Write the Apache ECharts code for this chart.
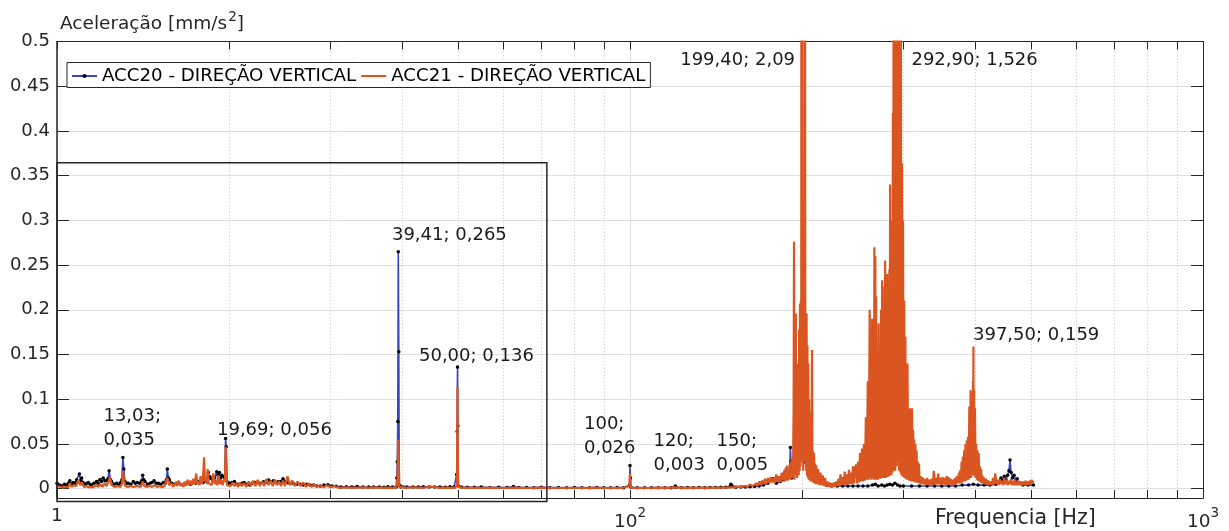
<!DOCTYPE html>
<html>
<head>
<meta charset="utf-8">
<script src="https://cdn.jsdelivr.net/npm/echarts@6/dist/echarts.min.js"></script>
<style>
  html, body { margin: 0; padding: 0; background: #fff; }
  #chart { width: 1229px; height: 531px; }
</style>
</head>
<body>
<div id="chart"></div>
<script>
// ---------- Spectrum data: [frequency in Hz, acceleration in mm/s^2] ----------

// ACC20, 10–31 Hz
const acc20Low = [
  [10.0,0.006],[10.1,0.004],[10.19,0.003],[10.3,0.005],[10.4,0.004],[10.47,0.006],[10.53,0.009],[10.6,0.005],
  [10.68,0.007],[10.75,0.006],[10.82,0.010],[10.88,0.008],[10.94,0.0165],[10.99,0.009],[11.04,0.012],[11.1,0.007],
  [11.19,0.005],[11.27,0.006],[11.34,0.007],[11.42,0.005],[11.49,0.004],[11.6,0.006],[11.72,0.008],[11.8,0.006],
  [11.88,0.010],[11.96,0.008],[12.04,0.012],[12.12,0.009],[12.2,0.009],[12.27,0.011],[12.33,0.020],[12.4,0.010],
  [12.45,0.008],[12.58,0.005],[12.71,0.006],[12.82,0.005],[12.92,0.007],[12.98,0.010],[13.03,0.035],[13.08,0.022],
  [13.14,0.008],[13.23,0.006],[13.32,0.006],[13.45,0.005],[13.59,0.008],[13.7,0.006],[13.81,0.007],[13.95,0.006],
  [14.05,0.009],[14.11,0.015],[14.17,0.010],[14.24,0.008],[14.38,0.005],[14.53,0.006],[14.65,0.007],[14.77,0.009],
  [14.9,0.006],[15.03,0.006],[15.18,0.005],[15.33,0.007],[15.45,0.006],[15.52,0.010],[15.58,0.022],[15.64,0.012],
  [15.71,0.010],[15.85,0.006],[16.0,0.005],[16.14,0.006],[16.28,0.006],[16.44,0.005],[16.6,0.004],[16.77,0.005],
  [16.94,0.006],[17.1,0.005],[17.28,0.007],[17.46,0.006],[17.64,0.008],[17.81,0.007],[17.99,0.007],[18.18,0.009],
  [18.31,0.012],[18.37,0.018],[18.43,0.012],[18.49,0.0134],[18.6,0.011],[18.7,0.010],[18.85,0.012],[19.0,0.019],
  [19.1,0.015],[19.21,0.018],[19.3,0.012],[19.4,0.015],[19.53,0.0134],[19.62,0.012],[19.69,0.056],[19.74,0.047],
  [19.8,0.008],[19.9,0.006],[20.02,0.006],[20.2,0.007],[20.4,0.008],[20.6,0.005],[20.8,0.005],[21.0,0.006],
  [21.2,0.007],[21.45,0.005],[21.7,0.004],[21.9,0.006],[22.1,0.007],[22.3,0.0067],[22.6,0.006],[22.93,0.0078],
  [23.15,0.007],[23.4,0.0097],[23.6,0.008],[23.86,0.009],[24.1,0.007],[24.3,0.0078],[24.55,0.008],[24.8,0.011],
  [25.05,0.008],[25.3,0.0067],[25.55,0.006],[25.84,0.006],[26.2,0.005],[26.56,0.005],[26.9,0.004],[27.3,0.005],
  [27.65,0.004],[28.03,0.004],[28.4,0.003],[28.8,0.003],[29.25,0.004],[29.7,0.0045],[30.2,0.003],[30.7,0.0028]
];

// ACC20, 31–192 Hz
const acc20Mid = [
  [31.3,0.002],[31.98,0.0022],[32.7,0.002],[33.4,0.0025],[34.2,0.002],[35.0,0.0018],[35.7,0.0018],[36.5,0.002],
  [37.2,0.0017],[37.8,0.0022],[38.5,0.0018],[39.09,0.002],[39.17,0.012],[39.25,0.030],[39.33,0.075],[39.41,0.265],
  [39.49,0.153],[39.57,0.004],[39.8,0.002],[40.8,0.002],[41.8,0.0018],[42.7,0.002],[43.6,0.0022],[44.6,0.0018],
  [45.6,0.002],[46.6,0.002],[47.6,0.0017],[48.5,0.0022],[49.3,0.002],[49.84,0.016],[49.92,0.064],[50.0,0.136],
  [50.08,0.070],[50.16,0.003],[50.8,0.0018],[52,0.0016],[53.5,0.0015],[55,0.0018],[57,0.0014],[59,0.0015],
  [61,0.0013],[62.6,0.0025],[64,0.0013],[66,0.0014],[68,0.0012],[70,0.0015],[72.5,0.0012],[75,0.0013],
  [77.5,0.0011],[80,0.0014],[82.5,0.0012],[85,0.0011],[87.5,0.0013],[90,0.0012],[92.5,0.0011],[95,0.0013],
  [97.5,0.0012],[99.8,0.004],[100.0,0.026],[100.2,0.012],[100.4,0.0015],[103,0.0012],[106,0.0011],[109,0.0012],
  [112,0.0011],[115,0.0012],[118,0.0012],[119.8,0.0018],[120,0.003],[120.2,0.0016],[123,0.0012],[126,0.0013],
  [129,0.0012],[132,0.0013],[135,0.0012],[138,0.0014],[141,0.0013],[144,0.0015],[147,0.0016],[149.5,0.0025],
  [150,0.005],[150.5,0.003],[153,0.0016],[156,0.0018],[159,0.002],[162,0.0022],[165,0.0025],[168,0.003],
  [171,0.004],[174,0.006],[177.8,0.011],[180,0.006],[183,0.008],[185.5,0.010],[188,0.012],[190.0,0.020],
  [190.5,0.046],[191.0,0.030],[191.5,0.012]
];

// ACC20, 192–506 Hz
const acc20High = [
  [193,0.020],[194,0.084],[195,0.030],[197,0.040],[199.4,0.050],[202,0.030],[205,0.015],[210,0.008],
  [215,0.006],[220,0.004],[225,0.003],[230,0.003],[235,0.003],[240,0.003],[245,0.003],[250,0.003],
  [255,0.003],[260,0.003],[265,0.004],[268,0.005],[271,0.003],[275,0.004],[278,0.003],[281,0.004],
  [284,0.005],[287,0.004],[290,0.006],[293,0.004],[296,0.003],[300,0.003],[310,0.003],[320,0.003],
  [330,0.003],[340,0.003],[350,0.003],[360,0.003],[370,0.003],[380,0.004],[390,0.004],[397.5,0.005],
  [405,0.004],[415,0.004],[425,0.004],[435,0.005],[440,0.008],[444,0.012],[447,0.009],[450,0.014],
  [453,0.010],[456,0.015],[458.5,0.020],[460.5,0.032],[462.5,0.018],[465,0.012],[468,0.015],[471,0.009],
  [474,0.011],[478,0.006],[485,0.004],[495,0.004],[506,0.004]
];

// ACC21, 10–31 Hz
const acc21Low = [
  [10.0,0.003],[10.08,0.0015],[10.16,0.002],[10.25,0.001],[10.35,0.002],[10.45,0.0015],[10.53,0.006],[10.6,0.002],
  [10.7,0.004],[10.8,0.003],[10.9,0.010],[10.98,0.004],[11.05,0.007],[11.15,0.002],[11.25,0.003],[11.35,0.0015],
  [11.45,0.002],[11.55,0.0015],[11.7,0.004],[11.8,0.002],[11.9,0.005],[12.0,0.002],[12.1,0.006],[12.2,0.003],
  [12.3,0.008],[12.37,0.013],[12.45,0.004],[12.6,0.002],[12.75,0.003],[12.9,0.002],[12.98,0.005],[13.03,0.020],
  [13.08,0.012],[13.15,0.003],[13.3,0.002],[13.45,0.003],[13.6,0.002],[13.8,0.003],[14.0,0.002],[14.11,0.008],
  [14.2,0.003],[14.35,0.002],[14.5,0.0035],[14.65,0.002],[14.8,0.004],[14.95,0.002],[15.1,0.003],[15.25,0.0015],
  [15.4,0.003],[15.58,0.012],[15.7,0.004],[15.85,0.006],[15.95,0.002],[16.1,0.007],[16.2,0.003],[16.3,0.009],
  [16.4,0.003],[16.5,0.006],[16.6,0.002],[16.7,0.008],[16.8,0.003],[16.9,0.010],[17.0,0.004],[17.1,0.009],
  [17.2,0.004],[17.3,0.011],[17.4,0.005],[17.5,0.017],[17.58,0.005],[17.64,0.008],[17.72,0.004],[17.81,0.014],
  [17.9,0.005],[17.98,0.012],[18.06,0.035],[18.12,0.008],[18.19,0.013],[18.26,0.005],[18.32,0.022],[18.4,0.006],
  [18.5,0.008],[18.62,0.004],[18.75,0.017],[18.85,0.005],[18.95,0.010],[19.05,0.004],[19.13,0.015],[19.25,0.005],
  [19.35,0.010],[19.45,0.004],[19.55,0.009],[19.64,0.012],[19.69,0.047],[19.74,0.030],[19.8,0.004],[19.95,0.006],
  [20.1,0.003],[20.25,0.007],[20.4,0.003],[20.55,0.006],[20.7,0.002],[20.85,0.007],[21.0,0.003],[21.2,0.006],
  [21.4,0.002],[21.6,0.008],[21.8,0.003],[22.0,0.009],[22.2,0.003],[22.4,0.010],[22.6,0.003],[22.8,0.008],
  [23.0,0.003],[23.2,0.011],[23.4,0.004],[23.6,0.009],[23.8,0.003],[24.0,0.010],[24.2,0.004],[24.4,0.008],
  [24.6,0.003],[24.8,0.009],[25.0,0.003],[25.25,0.014],[25.5,0.004],[25.75,0.009],[26.0,0.003],[26.3,0.008],
  [26.6,0.003],[26.9,0.007],[27.2,0.002],[27.5,0.006],[27.8,0.002],[28.1,0.005],[28.4,0.002],[28.8,0.004],
  [29.2,0.0015],[29.6,0.004],[30.0,0.0015],[30.5,0.003]
];

// ACC21, 31–152 Hz
const acc21Mid = [
  [31.0,0.001],[32,0.0015],[33,0.001],[34,0.0015],[35,0.001],[36,0.0014],[37,0.001],[38,0.0013],
  [39.0,0.001],[39.25,0.008],[39.33,0.020],[39.41,0.055],[39.49,0.030],[39.57,0.002],[40.5,0.001],[42,0.0014],
  [43.5,0.001],[45,0.0025],[46.5,0.001],[48,0.0013],[49.5,0.001],[49.84,0.004],[49.92,0.016],[50.0,0.114],
  [50.08,0.030],[50.16,0.002],[51,0.001],[53,0.0012],[55,0.0008],[57,0.0012],[60,0.0008],[63,0.0012],
  [66,0.0008],[70,0.0011],[74,0.0008],[78,0.001],[82,0.0008],[86,0.0011],[90,0.0008],[94,0.001],
  [97,0.0008],[99.8,0.003],[100.0,0.017],[100.2,0.004],[100.5,0.0008],[104,0.001],[108,0.0008],[112,0.0011],
  [116,0.0009],[119.6,0.0015],[120,0.003],[120.4,0.0012],[124,0.0009],[128,0.0011],[132,0.0009],[136,0.0012],
  [140,0.001],[144,0.0013],[148,0.0011],[150,0.0015]
];

// ACC21, 152–192 Hz
const acc21Rise = [
  [152,0.0015],[154,0.0025],[156,0.0018],[158,0.003],[160,0.002],[162,0.0045],[164,0.003],[166,0.006],
  [167,0.003],[168,0.008],[169,0.004],[170,0.009],[171,0.005],[172,0.011],[173,0.005],[174,0.012],
  [175,0.006],[176,0.013],[177,0.007],[178,0.012],[179,0.006],[180,0.016],[181,0.008],[182,0.014],
  [183,0.007],[184,0.018],[185,0.009],[186,0.021],[186.5,0.008],[187,0.024],[187.5,0.010],[188,0.026],
  [188.5,0.009],[189,0.022],[189.5,0.010],[190,0.027],[190.5,0.011],[191,0.031],[191.5,0.012],[192,0.033]
];

// ACC21, 192–212 Hz
const acc21Band1 = [
  [192.5,0.012],[193.0,0.090],[193.3,0.276],[193.6,0.010],[194.0,0.140],[194.3,0.015],[194.7,0.196],[195.0,0.020],
  [195.4,0.106],[195.7,0.012],[196.0,0.140],[196.4,0.020],[196.7,0.106],[197.0,0.015],[197.3,0.178],[197.7,0.020],
  [198.0,0.207],[198.4,0.025],[198.7,0.210],[199.0,0.030],[199.4,2.09],[199.8,0.030],[200.2,0.210],[200.6,0.020],
  [201.0,0.205],[201.4,0.030],[201.9,0.950],[202.3,0.030],[202.6,0.190],[203.0,0.020],[203.3,0.196],[203.7,0.015],
  [204.0,0.160],[204.4,0.012],[204.7,0.140],[205.1,0.010],[205.4,0.100],[205.8,0.010],[206.1,0.085],[206.5,0.008],
  [206.8,0.045],[207.2,0.009],[207.8,0.155],[208.2,0.008],[208.6,0.042],[209.0,0.007],[209.5,0.040],[210.0,0.006],
  [210.5,0.028],[211.0,0.005],[211.5,0.026]
];

// ACC21, 212–248 Hz
const acc21Gap = [
  [212,0.005],[213,0.022],[214,0.004],[215,0.018],[216,0.004],[217,0.015],[218,0.003],[219,0.012],
  [220,0.003],[221,0.008],[222,0.002],[223,0.007],[224,0.002],[225,0.006],[226,0.002],[227,0.007],
  [228,0.002],[229,0.008],[230,0.003],[231,0.011],[232,0.003],[233,0.016],[234,0.004],[235,0.013],
  [236,0.004],[237,0.019],[238,0.004],[239,0.016],[240,0.005],[241,0.021],[242,0.005],[243,0.018],
  [244,0.005],[245,0.025],[246,0.006],[247,0.022]
];

// ACC21, 248–321 Hz
const acc21Band2 = [
  [248,0.027],[249,0.006],[250,0.030],[251,0.007],[252,0.040],[253,0.008],[254,0.045],[255,0.008],
  [256,0.050],[257,0.009],[258,0.080],[259,0.010],[260,0.120],[261,0.010],[262,0.200],[262.5,0.012],
  [263.2,0.130],[263.8,0.010],[264.5,0.190],[265.2,0.012],[266,0.160],[266.5,0.010],[267,0.270],[267.5,0.012],
  [268,0.260],[268.4,0.010],[268.8,0.215],[269.3,0.012],[270,0.138],[270.7,0.010],[271.5,0.185],[272.2,0.012],
  [273,0.160],[273.6,0.011],[274.2,0.200],[274.8,0.012],[275.4,0.233],[276,0.013],[276.7,0.210],[277.3,0.012],
  [278,0.226],[278.4,0.014],[278.8,0.255],[279.4,0.012],[280,0.220],[280.5,0.015],[281,0.240],[281.7,0.013],
  [282.4,0.226],[283,0.014],[283.6,0.245],[284,0.015],[284.4,0.340],[285,0.016],[285.5,0.230],[286,0.015],
  [286.6,0.300],[287.1,0.018],[287.6,0.420],[288.0,0.020],[288.4,0.620],[288.8,0.020],[289.2,0.850],[289.6,0.025],
  [290.0,0.700],[290.4,0.020],[290.8,1.050],[291.2,0.025],[291.6,0.950],[292.0,0.030],[292.4,1.200],[292.65,0.040],
  [292.9,1.526],[293.2,0.030],[293.6,1.100],[294.0,0.025],[294.4,0.900],[294.8,0.020],[295.2,0.800],[295.6,0.020],
  [296.0,0.620],[296.5,0.018],[297.0,0.520],[297.6,0.015],[298.3,0.364],[299.0,0.014],[299.6,0.300],[300.2,0.013],
  [301,0.210],[301.7,0.012],[302.4,0.170],[303,0.011],[303.6,0.140],[304.3,0.010],[305,0.140],[305.7,0.010],
  [306.4,0.085],[307.1,0.009],[307.8,0.090],[308.5,0.009],[309.2,0.075],[309.9,0.008],[310.6,0.090],[311.3,0.008],
  [312,0.066],[312.7,0.008],[313.4,0.055],[314.1,0.007],[314.8,0.050],[315.5,0.007],[316.3,0.043],[317,0.007],
  [317.8,0.030],[318.6,0.006],[319.4,0.028],[320.2,0.006]
];

// ACC21, 321–377 Hz
const acc21Between = [
  [321,0.014],[322.5,0.005],[324,0.013],[325.5,0.005],[327,0.011],[328.5,0.004],[330,0.012],[331.5,0.004],
  [333,0.010],[334.5,0.004],[336,0.011],[337.5,0.004],[339,0.020],[340.5,0.005],[342,0.012],[343.5,0.005],
  [345,0.017],[346.5,0.005],[348,0.012],[349.5,0.004],[351,0.013],[352.5,0.005],[354,0.012],[355.5,0.004],
  [357,0.014],[358.5,0.005],[360,0.013],[361.5,0.005],[363,0.011],[364.5,0.004],[366,0.010],[367.5,0.004],
  [369,0.012],[370.5,0.005],[372,0.014],[373.5,0.006],[375,0.018],[376.5,0.006]
];

// ACC21, 377–414 Hz
const acc21Band3 = [
  [377,0.021],[378,0.006],[379,0.030],[380,0.007],[381,0.036],[382,0.008],[383,0.043],[384,0.008],
  [385,0.050],[386,0.009],[387,0.054],[388,0.010],[389,0.058],[390,0.010],[391,0.092],[392,0.012],
  [393,0.110],[394,0.012],[395,0.090],[396,0.015],[396.8,0.120],[397.2,0.020],[397.5,0.159],[397.9,0.020],
  [398.5,0.110],[399,0.014],[400,0.090],[401,0.012],[402,0.050],[403,0.010],[404,0.043],[405,0.009],
  [406,0.040],[407,0.008],[408,0.025],[409,0.007],[410,0.022],[411,0.006],[412,0.015],[413,0.006],[414,0.013]
];

// ACC21, 414–506 Hz
const acc21Tail = [
  [416,0.005],[418,0.011],[420,0.005],[422,0.009],[424,0.004],[426,0.008],[428,0.004],[430,0.012],
  [432,0.005],[434,0.017],[436,0.005],[438,0.010],[440,0.004],[442,0.011],[444,0.005],[446,0.009],
  [448,0.004],[450,0.012],[452,0.005],[454,0.010],[456,0.004],[458,0.009],[460,0.005],[462,0.011],
  [464,0.004],[466,0.009],[468,0.004],[470,0.010],[472,0.004],[474,0.008],[476,0.004],[478,0.009],
  [480,0.004],[482,0.008],[484,0.004],[486,0.008],[488,0.004],[490,0.009],[492,0.004],[494,0.008],
  [496,0.004],[498,0.009],[500,0.005],[502,0.010],[504,0.006],[506,0.009]
];

const acc20 = [...acc20Low, ...acc20Mid, ...acc20High];
const acc21 = [...acc21Low, ...acc21Mid, ...acc21Rise, ...acc21Band1, ...acc21Gap,
               ...acc21Band2, ...acc21Between, ...acc21Band3, ...acc21Tail];

const seriesNames = ['ACC20 - DIREÇÃO VERTICAL', 'ACC21 - DIREÇÃO VERTICAL'];

// Peaks annotated with "frequency; amplitude" (value read from the series itself)
const peakNotes = [
  { src: 'acc20', f: 13.03, fd: 2, ad: 3, twoLines: true },
  { src: 'acc20', f: 19.69, fd: 2, ad: 3, twoLines: false },
  { src: 'acc20', f: 39.41, fd: 2, ad: 3, twoLines: false },
  { src: 'acc20', f: 50.0,  fd: 2, ad: 3, twoLines: false },
  { src: 'acc20', f: 100.0, fd: 0, ad: 3, twoLines: true },
  { src: 'acc21', f: 120,   fd: 0, ad: 3, twoLines: true },
  { src: 'acc20', f: 150,   fd: 0, ad: 3, twoLines: true },
  { src: 'acc21', f: 199.4, fd: 2, ad: 2, twoLines: false },
  { src: 'acc21', f: 292.9, fd: 2, ad: 3, twoLines: false },
  { src: 'acc21', f: 397.5, fd: 2, ad: 3, twoLines: false }
];

// Where each note's text sits, in axis units: [freq, accel, text alignment]
const noteSpots = [
  [12.05, 0.0676, 'left'],
  [19.02, 0.0651, 'left'],
  [38.42, 0.2838, 'left'],
  [42.83, 0.1484, 'left'],
  [83.12, 0.0588, 'left'],
  [109.9, 0.0397, 'left'],
  [141.6, 0.0397, 'left'],
  [194.1, 0.4790, 'right'],
  [309.9, 0.4790, 'left'],
  [396.8, 0.1714, 'left']
];

// Minor log-decade positions for the dotted grid and minor ticks
const minorFreqs = [20, 30, 40, 50, 60, 70, 80, 90, 200, 300, 400, 500, 600, 700, 800, 900];

// Outline of the zoomed region (axis units)
const zoomBox = { f0: 10, f1: 71.6, a0: -0.0143, a1: 0.3643 };

// ---------- helpers ----------
const FONT = 'DejaVu Sans';
const INK = '#262626';
const BLUE = '#3546c8';
const ORANGE = '#da5520';
const sources = { acc20, acc21 };
function valueAt(arr, f) {
  const p = arr.find(d => Math.abs(d[0] - f) < 1e-9);
  return p ? p[1] : NaN;
}
function ptBr(v, d) { return v.toFixed(d).replace('.', ','); }
const noteTexts = peakNotes.map(n => {
  const v = valueAt(sources[n.src], n.f);
  return ptBr(n.f, n.fd) + ';' + (n.twoLines ? '\n' : ' ') + ptBr(v, n.ad);
});

const Y_MIN = -0.0104, Y_MAX = 0.5;

const chart = echarts.init(document.getElementById('chart'), null, { renderer: 'canvas' });

const option = {
  animation: false,
  backgroundColor: '#ffffff',
  textStyle: { fontFamily: FONT },
  grid: { left: 57, right: 26, top: 41.5, bottom: 33, containLabel: false, outerBoundsMode: 'none' },
  legend: {
    left: 67, top: 62.5,
    orient: 'horizontal',
    data: [
      { name: seriesNames[0] },
      { name: seriesNames[1], icon: 'path://M0,0H25V2H0Z' }
    ],
    itemWidth: 25, itemHeight: 5, itemGap: 5, symbolKeepAspect: true,
    padding: [4.5, 5, 2.5, 4],
    borderColor: INK, borderWidth: 1, backgroundColor: '#ffffff',
    textStyle: { fontFamily: FONT, fontSize: 18.2, color: '#000' }
  },
  xAxis: [
    {
      type: 'log', logBase: 10, min: 10, max: 1000, position: 'bottom',
      name: 'Frequencia [Hz]', nameLocation: 'end', nameGap: -268,
      nameTextStyle: { fontFamily: FONT, fontSize: 20.5, color: INK, align: 'left', verticalAlign: 'top', padding: [10.5, 0, 0, 0] },
      axisLine: { show: true, onZero: false, lineStyle: { color: INK, width: 1 } },
      axisTick: { show: true, inside: true, length: 8, lineStyle: { color: INK, width: 1 } },
      axisLabel: {
        margin: 8.5, color: INK, fontSize: 18.5, fontFamily: FONT,
        formatter: v => {
          const e = Math.round(Math.log10(v));
          return e === 1 ? '1' : '{b|10}{s|' + e + '}';
        },
        rich: {
          b: { fontSize: 18.5, fontFamily: FONT, color: INK, verticalAlign: 'bottom' },
          s: { fontSize: 13.5, fontFamily: FONT, color: INK, verticalAlign: 'bottom', padding: [0, 0, 10.75, 0] }
        }
      },
      splitLine: { show: true, lineStyle: { color: '#e0e0e0', width: 1 } },
      minorTick: { show: false }, minorSplitLine: { show: false }
    },
    {
      type: 'log', logBase: 10, min: 10, max: 1000, position: 'top',
      axisLine: { show: true, onZero: false, lineStyle: { color: INK, width: 1 } },
      axisTick: { show: true, inside: true, length: 8, lineStyle: { color: INK, width: 1 } },
      axisLabel: { show: false },
      splitLine: { show: false }
    }
  ],
  yAxis: [
    {
      type: 'value', min: Y_MIN, max: Y_MAX, splitNumber: 10, position: 'left',
      name: '{a|Aceleração [mm/s}{s|2}{a|]}', nameLocation: 'end', nameGap: 8.3,
      nameTextStyle: {
        align: 'left', verticalAlign: 'bottom', padding: [0, 0, 0, 3],
        rich: {
          a: { fontSize: 18.5, fontFamily: FONT, color: INK, verticalAlign: 'bottom' },
          s: { fontSize: 13.5, fontFamily: FONT, color: INK, verticalAlign: 'bottom', padding: [0, 0, 8.5, 1] }
        }
      },
      axisLine: { show: true, onZero: false, lineStyle: { color: INK, width: 1.5 } },
      axisTick: { show: true, inside: true, length: 12, lineStyle: { color: INK, width: 1 } },
      axisLabel: { showMinLabel: false, margin: 7, color: INK, fontSize: 18, fontFamily: FONT },
      splitLine: { show: true, lineStyle: { color: '#e0e0e0', width: 1 } }
    },
    {
      type: 'value', min: Y_MIN, max: Y_MAX, splitNumber: 10, position: 'right',
      axisLine: { show: true, onZero: false, lineStyle: { color: INK, width: 1 } },
      axisTick: { show: true, inside: true, length: 12, lineStyle: { color: INK, width: 1 } },
      axisLabel: { show: false },
      splitLine: { show: false }
    }
  ],
  series: [
    // dotted minor grid plus minor ticks on the bottom and top axes
    {
      type: 'custom', name: 'minorGrid', silent: true, z: 1,
      xAxisIndex: 0, yAxisIndex: 0,
      data: minorFreqs.map(f => [f, 0]),
      encode: { x: 0, y: 1 },
      renderItem: (params, api) => {
        const cs = params.coordSys;
        const x = Math.round(api.coord([api.value(0), 0])[0]) + 0.5;
        const yTop = cs.y, yBot = cs.y + cs.height;
        return {
          type: 'group',
          children: [
            { type: 'line', shape: { x1: x, y1: yTop, x2: x, y2: yBot },
              style: { stroke: '#cdcdcd', lineWidth: 1, lineDash: [1.2, 2.2] } },
            { type: 'line', shape: { x1: x, y1: yBot, x2: x, y2: yBot - 8 },
              style: { stroke: INK, lineWidth: 1 } },
            { type: 'line', shape: { x1: x, y1: yTop, x2: x, y2: yTop + 8 },
              style: { stroke: INK, lineWidth: 1 } }
          ]
        };
      }
    },
    {
      name: seriesNames[0], type: 'line', data: acc20,
      xAxisIndex: 0, yAxisIndex: 0, z: 2,
      symbol: 'circle', symbolSize: 3.5, showSymbol: true, showAllSymbol: true,
      itemStyle: { color: '#000000' },
      lineStyle: { color: BLUE, width: 1.6 },
      emphasis: { disabled: true }, clip: true
    },
    {
      name: seriesNames[1], type: 'line', data: acc21,
      xAxisIndex: 0, yAxisIndex: 0, z: 3,
      symbol: 'none', showSymbol: false,
      itemStyle: { color: ORANGE },
      lineStyle: { color: ORANGE, width: 2.2 },
      emphasis: { disabled: true }, clip: true
    },
    // outline of the zoomed region
    {
      type: 'custom', name: 'zoomBox', silent: true, z: 4, clip: false,
      xAxisIndex: 0, yAxisIndex: 0,
      data: [[zoomBox.f0, zoomBox.a0]],
      encode: { x: 0, y: 1 },
      renderItem: (params, api) => {
        const p0 = api.coord([zoomBox.f0, zoomBox.a1]);
        const p1 = api.coord([zoomBox.f1, zoomBox.a0]);
        return {
          type: 'rect',
          shape: { x: p0[0], y: p0[1], width: p1[0] - p0[0], height: p1[1] - p0[1] },
          style: { fill: 'none', stroke: INK, lineWidth: 1.5 }
        };
      }
    },
    // peak notes
    {
      type: 'custom', name: 'notes', silent: true, z: 5, clip: false,
      xAxisIndex: 0, yAxisIndex: 0,
      data: noteSpots.map((s, i) => [s[0], s[1], i]),
      encode: { x: 0, y: 1 },
      renderItem: (params, api) => {
        const i = api.value(2);
        const p = api.coord([api.value(0), api.value(1)]);
        return {
          type: 'text', x: p[0], y: p[1],
          style: {
            text: noteTexts[i], fill: '#1a1a1a',
            font: '18px "' + FONT + '"',
            align: noteSpots[i][2], verticalAlign: 'middle', lineHeight: 24.5
          }
        };
      }
    }
  ]
};

chart.setOption(option);
</script>
</body>
</html>
